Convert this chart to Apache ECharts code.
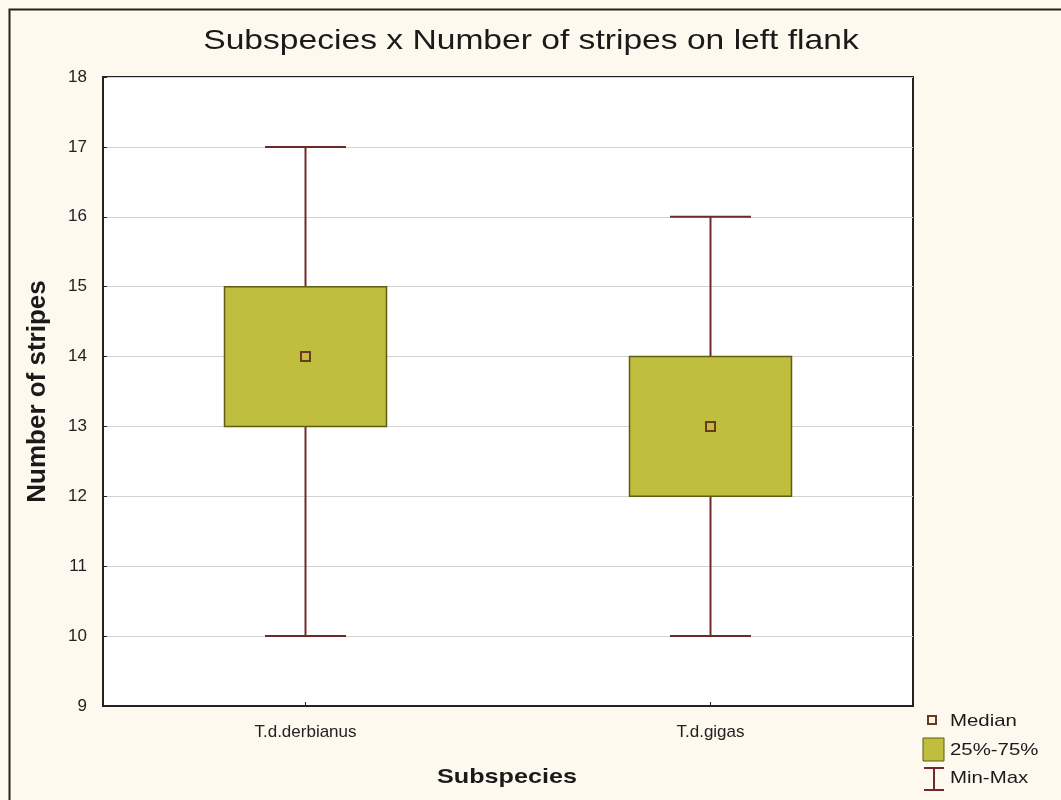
<!DOCTYPE html>
<html>
<head>
<meta charset="utf-8">
<script src="https://cdn.jsdelivr.net/npm/echarts@6/dist/echarts.min.js"></script>
<style>
  html, body { margin: 0; padding: 0; background: #fdf9ef; }
  #chart { width: 1061px; height: 800px; }
</style>
</head>
<body>
<div id="chart"></div>
<script>
// Stripe counts on the left flank, per subspecies
const categories = ['T.d.derbianus', 'T.d.gigas'];
const minValues = [10, 10];
const q1Values = [13, 12];
const medianValues = [14, 13];
const q3Values = [15, 14];
const maxValues = [17, 16];
const yTicks = [9, 10, 11, 12, 13, 14, 15, 16, 17, 18];

const boxFill = '#bfbe3e';
const boxEdge = '#5f5d12';
const whiskerColor = '#6e2a2a';
const medianEdge = '#6b3a1e';
const sans = 'Liberation Sans, Arial, sans-serif';

const rows = categories.map((c, i) => [i, minValues[i], q1Values[i], medianValues[i], q3Values[i], maxValues[i]]);

function renderBox(params, api) {
  const i = api.value(0);
  const band = api.size([1, 0])[0];
  const boxHalf = band * 0.2;
  const capHalf = band * 0.1;
  const pMin = api.coord([i, api.value(1)]);
  const pQ1 = api.coord([i, api.value(2)]);
  const pMed = api.coord([i, api.value(3)]);
  const pQ3 = api.coord([i, api.value(4)]);
  const pMax = api.coord([i, api.value(5)]);
  const x = pMed[0];
  const lineStyle = { stroke: whiskerColor, lineWidth: 2 };
  return {
    type: 'group',
    children: [
      { type: 'line', shape: { x1: x, y1: pQ3[1], x2: x, y2: pMax[1] }, style: lineStyle },
      { type: 'line', shape: { x1: x, y1: pQ1[1], x2: x, y2: pMin[1] }, style: lineStyle },
      { type: 'line', shape: { x1: x - capHalf, y1: pMax[1], x2: x + capHalf, y2: pMax[1] }, style: lineStyle },
      { type: 'line', shape: { x1: x - capHalf, y1: pMin[1], x2: x + capHalf, y2: pMin[1] }, style: lineStyle },
      { type: 'rect', shape: { x: x - boxHalf, y: pQ3[1], width: boxHalf * 2, height: pQ1[1] - pQ3[1] },
        style: { fill: boxFill, stroke: boxEdge, lineWidth: 1.5 } },
      { type: 'rect', shape: { x: x - 4.5, y: pMed[1] - 4.5, width: 9, height: 9 },
        style: { fill: boxFill, stroke: medianEdge, lineWidth: 2 } }
    ]
  };
}

// Horizontally widened text, as in the original figure's lettering
function wideText(text, x, y, font, align) {
  return {
    type: 'text', x: x, y: y, scaleX: 1.2, scaleY: 1,
    style: { text: text, fill: '#1a1a1a', font: font, textAlign: align || 'left', textVerticalAlign: 'middle' }
  };
}

const chart = echarts.init(document.getElementById('chart'), null, { renderer: 'canvas' });

const legendX = 923;
chart.setOption({
  backgroundColor: '#fdf9ef',
  animation: false,
  grid: { left: 103, top: 77, right: 148, bottom: 94, show: true, backgroundColor: '#ffffff',
          borderColor: '#222', borderWidth: 2 },
  xAxis: {
    type: 'category', data: categories,
    axisLine: { lineStyle: { color: '#222', width: 2 } },
    axisTick: { show: true, inside: true, alignWithLabel: true, length: 4, lineStyle: { color: '#222' } },
    axisLabel: { fontFamily: sans, fontSize: 17, color: '#222', margin: 18 }
  },
  yAxis: {
    type: 'value', min: yTicks[0], max: yTicks[yTicks.length - 1], interval: 1,
    name: 'Number of stripes', nameLocation: 'middle', nameGap: 52,
    nameTextStyle: { fontFamily: sans, fontWeight: 'bold', fontSize: 26, color: '#1a1a1a' },
    axisLine: { show: true, lineStyle: { color: '#222', width: 2 } },
    axisTick: { show: true, inside: true, length: 4, lineStyle: { color: '#222' } },
    axisLabel: { fontFamily: sans, fontSize: 17, color: '#222', margin: 16 },
    splitLine: { show: true, lineStyle: { color: '#d2d2d2', width: 1 } }
  },
  series: [{
    type: 'custom',
    renderItem: renderBox,
    encode: { x: 0, y: [1, 2, 3, 4, 5] },
    data: rows,
    z: 3
  }],
  graphic: [
    { type: 'rect', left: 7, top: 7, shape: { width: 1061, height: 800 },
      style: { fill: 'none', stroke: '#222', lineWidth: 2 }, silent: true, z: 0 },
    wideText('Subspecies x Number of stripes on left flank', 531, 41, '28px ' + sans, 'center'),
    wideText('Subspecies', 507, 777, 'bold 21px ' + sans, 'center'),
    { type: 'rect', x: 928, y: 716, shape: { width: 8, height: 8 },
      style: { fill: '#fdf9ef', stroke: medianEdge, lineWidth: 2 } },
    wideText('Median', 950, 721, '17px ' + sans),
    { type: 'rect', x: legendX, y: 738, shape: { width: 21, height: 23 },
      style: { fill: boxFill, stroke: boxEdge, lineWidth: 1 } },
    wideText('25%-75%', 950, 750, '17px ' + sans),
    { type: 'line', shape: { x1: 924, y1: 768, x2: 944, y2: 768 }, style: { stroke: whiskerColor, lineWidth: 2 } },
    { type: 'line', shape: { x1: 934, y1: 768, x2: 934, y2: 790 }, style: { stroke: whiskerColor, lineWidth: 2 } },
    { type: 'line', shape: { x1: 924, y1: 790, x2: 944, y2: 790 }, style: { stroke: whiskerColor, lineWidth: 2 } },
    wideText('Min-Max', 950, 778, '17px ' + sans)
  ]
});
</script>
</body>
</html>
